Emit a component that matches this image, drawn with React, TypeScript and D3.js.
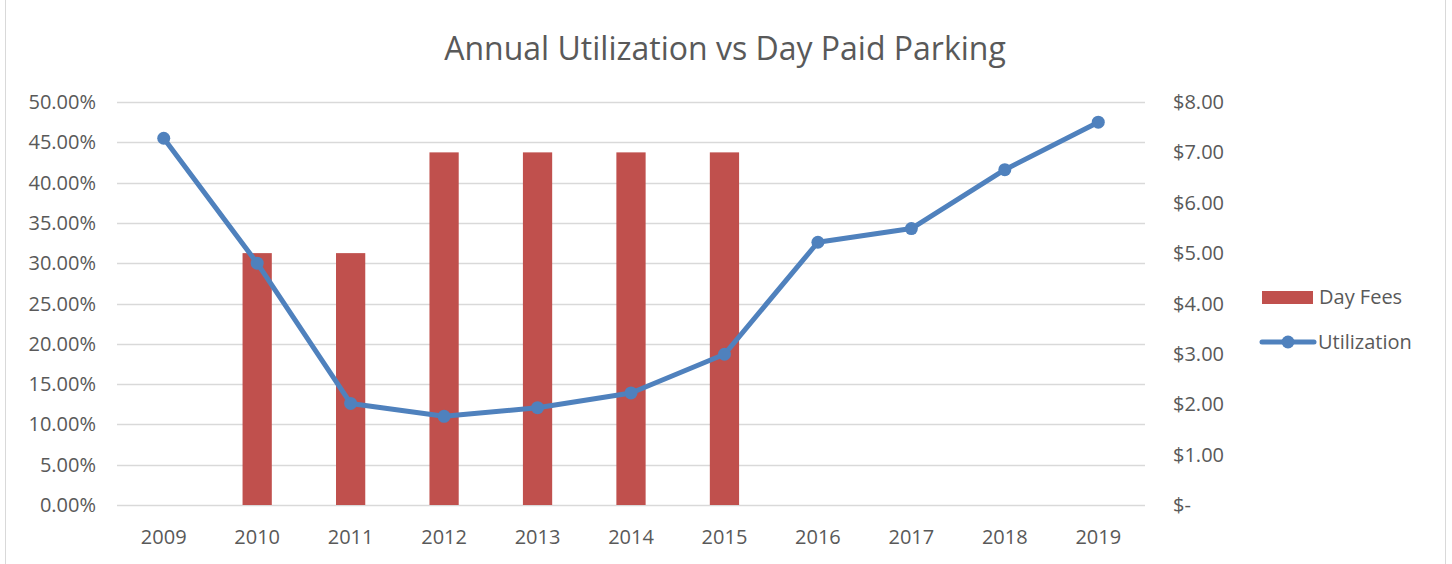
import React, { useEffect, useRef } from "react";
import * as d3 from "d3";

const years = ["2009", "2010", "2011", "2012", "2013", "2014", "2015", "2016", "2017", "2018", "2019"];
const dayFees: (number | null)[] = [null, 5, 5, 7, 7, 7, 7, null, null, null, null];
const utilization = [0.455, 0.300, 0.126, 0.110, 0.1207, 0.139, 0.187, 0.326, 0.343, 0.416, 0.475];
const leftTicks = [0, 0.05, 0.1, 0.15, 0.2, 0.25, 0.3, 0.35, 0.4, 0.45, 0.5];
const rightTicks = [0, 1, 2, 3, 4, 5, 6, 7, 8];

const W = 1452;
const H = 564;
const FONT = "'Open Sans', sans-serif";
const TEXT = "#595959";
const BAR = "#C0504D";
const LINE = "#4F81BD";
const GRID = "#D9D9D9";
const FS = 20;

export default function App() {
  const ref = useRef<SVGSVGElement>(null);

  useEffect(() => {
    const svg = d3.select(ref.current);
    svg.selectAll("*").remove();

    const left = 117, right = 1145, top = 102, bottom = 505;
    const x = d3.scaleBand().domain(years).range([left, right]).paddingInner(0).paddingOuter(0);
    const yL = d3.scaleLinear().domain([0, 0.5]).range([bottom, top]);
    const yR = d3.scaleLinear().domain([0, 8]).range([bottom, top]);

    svg.append("rect").attr("x", 0).attr("y", 0).attr("width", W).attr("height", H).attr("fill", "#fff");
    svg.append("rect").attr("x", 5.5).attr("y", -2).attr("width", 1440).attr("height", H + 4)
      .attr("fill", "none").attr("stroke", GRID).attr("stroke-width", 1);

    // title
    svg.append("text").attr("x", 725).attr("y", 60).attr("text-anchor", "middle")
      .attr("font-family", FONT).attr("font-size", 32).attr("fill", TEXT)
      .text("Annual Utilization vs Day Paid Parking");

    // gridlines
    svg.append("g").selectAll("line").data(leftTicks).join("line")
      .attr("x1", left).attr("x2", right)
      .attr("y1", d => Math.round(yL(d)) + 0.5).attr("y2", d => Math.round(yL(d)) + 0.5)
      .attr("stroke", GRID).attr("stroke-width", 1.5);

    // left axis labels
    svg.append("g").selectAll("text").data(leftTicks).join("text")
      .attr("x", 96).attr("y", d => yL(d)).attr("dy", "0.35em").attr("text-anchor", "end")
      .attr("font-family", FONT).attr("font-size", FS).attr("fill", TEXT)
      .text(d => (d * 100).toFixed(2) + "%");

    // right axis labels
    svg.append("g").selectAll("text").data(rightTicks).join("text")
      .attr("x", 1173).attr("y", d => yR(d)).attr("dy", "0.35em").attr("text-anchor", "start")
      .attr("font-family", FONT).attr("font-size", FS).attr("fill", TEXT)
      .text(d => (d === 0 ? "$-" : "$" + d.toFixed(2)));

    // x labels
    svg.append("g").selectAll("text").data(years).join("text")
      .attr("x", d => (x(d) as number) + x.bandwidth() / 2).attr("y", 544).attr("text-anchor", "middle")
      .attr("font-family", FONT).attr("font-size", FS).attr("fill", TEXT)
      .text(d => d);

    // bars
    const bw = x.bandwidth() * 0.313;
    svg.append("g").selectAll("rect").data(years.map((y, i) => ({ y, v: dayFees[i] })).filter(d => d.v != null)).join("rect")
      .attr("x", d => (x(d.y) as number) + x.bandwidth() / 2 - bw / 2)
      .attr("width", bw)
      .attr("y", d => yR(d.v as number))
      .attr("height", d => bottom - yR(d.v as number))
      .attr("fill", BAR);

    // line
    const pts = years.map((y, i) => [(x(y) as number) + x.bandwidth() / 2, yL(utilization[i])] as [number, number]);
    svg.append("path").attr("d", d3.line()(pts)).attr("fill", "none").attr("stroke", LINE)
      .attr("stroke-width", 5).attr("stroke-linejoin", "round").attr("stroke-linecap", "round");
    svg.append("g").selectAll("circle").data(pts).join("circle")
      .attr("cx", d => d[0]).attr("cy", d => d[1]).attr("r", 6.5).attr("fill", LINE);

    // legend
    svg.append("rect").attr("x", 1262).attr("y", 291).attr("width", 51).attr("height", 13).attr("fill", BAR);
    svg.append("text").attr("x", 1319).attr("y", 297).attr("dy", "0.35em")
      .attr("font-family", FONT).attr("font-size", FS).attr("fill", TEXT).text("Day Fees");
    svg.append("line").attr("x1", 1262).attr("x2", 1314).attr("y1", 342).attr("y2", 342)
      .attr("stroke", LINE).attr("stroke-width", 5).attr("stroke-linecap", "round");
    svg.append("circle").attr("cx", 1288).attr("cy", 342).attr("r", 6.5).attr("fill", LINE);
    svg.append("text").attr("x", 1318).attr("y", 342).attr("dy", "0.35em")
      .attr("font-family", FONT).attr("font-size", FS).attr("fill", TEXT).text("Utilization");
  }, []);

  return (
    <svg ref={ref} width={W} height={H} style={{ position: "absolute", left: 0, top: 0, display: "block" }} />
  );
}
